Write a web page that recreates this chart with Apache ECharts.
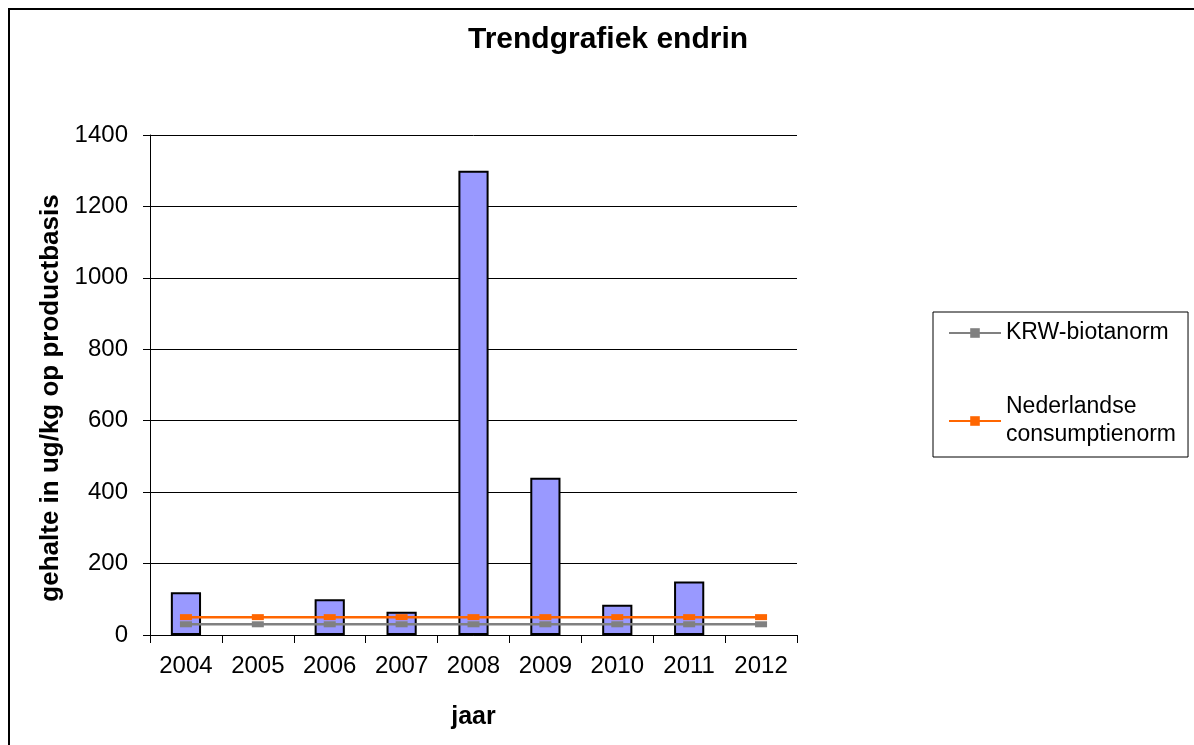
<!DOCTYPE html>
<html>
<head>
<meta charset="utf-8">
<script src="https://cdn.jsdelivr.net/npm/echarts@6/dist/echarts.min.js"></script>
<style>
  html, body { margin: 0; padding: 0; background: #fff; }
  #chart { width: 1194px; height: 745px; }
</style>
</head>
<body>
<div id="chart"></div>
<script>
const years = ['2004', '2005', '2006', '2007', '2008', '2009', '2010', '2011', '2012'];
const gehalte = [120, null, 100, 65, 1300, 440, 85, 150, null];
const krwNorm = [30, 30, 30, 30, 30, 30, 30, 30, 30];
const nlNorm = [50, 50, 50, 50, 50, 50, 50, 50, 50];

const font = "'Liberation Sans', Arial, sans-serif";

const chart = echarts.init(document.getElementById('chart'));

const option = {
  animation: false,
  textStyle: { fontFamily: font },
  title: {
    text: 'Trendgrafiek endrin',
    left: 463,
    top: 20,
    textStyle: { fontSize: 30, fontWeight: 'bold', color: '#000', fontFamily: font }
  },
  graphic: [
    {
      type: 'rect',
      shape: { x: 9, y: 9, width: 1200, height: 800 },
      style: { fill: 'none', stroke: '#000', lineWidth: 2 },
      silent: true
    }
  ],
  legend: {
    data: ['KRW-biotanorm', 'Nederlandse consumptienorm'],
    orient: 'vertical',
    left: 933,
    top: 312,
    padding: [7, 12, 8, 15],
    itemGap: 46,
    itemWidth: 52,
    itemHeight: 12,
    borderColor: '#000',
    borderWidth: 1,
    borderRadius: 0,
    formatter: function (name) {
      return name === 'Nederlandse consumptienorm' ? 'Nederlandse\nconsumptienorm' : name;
    },
    textStyle: { fontSize: 23, lineHeight: 28, color: '#000', fontFamily: font }
  },
  grid: { left: 150, right: 397, top: 135, bottom: 110 },
  xAxis: {
    type: 'category',
    data: years,
    name: 'jaar',
    nameLocation: 'middle',
    nameGap: 70,
    nameTextStyle: { fontSize: 25, fontWeight: 'bold', color: '#000', fontFamily: font },
    axisLine: { lineStyle: { color: '#000', width: 1 } },
    axisTick: { show: true, length: 8, lineStyle: { color: '#000' } },
    axisLabel: { fontSize: 24, color: '#000', margin: 19, interval: 0 },
    splitLine: { show: false }
  },
  yAxis: {
    type: 'value',
    min: 0,
    max: 1400,
    interval: 200,
    name: 'gehalte in ug/kg op productbasis',
    nameLocation: 'middle',
    nameGap: 86,
    nameTextStyle: {
      fontSize: 26, fontWeight: 'bold', color: '#000', fontFamily: font,
      padding: [0, 26, 0, 0]
    },
    axisLine: { show: true, lineStyle: { color: '#000', width: 1 } },
    axisTick: { show: true, length: 7, lineStyle: { color: '#000' } },
    axisLabel: { fontSize: 24, color: '#000', margin: 22, formatter: (v) => String(v) },
    splitLine: { show: true, lineStyle: { color: '#000', width: 1 } }
  },
  series: [
    {
      name: 'gehalte',
      type: 'bar',
      data: gehalte,
      barWidth: '42%',
      itemStyle: { color: '#9999FF', borderColor: '#000', borderWidth: 2 },
      z: 2
    },
    {
      name: 'KRW-biotanorm',
      type: 'line',
      data: krwNorm,
      symbol: 'rect',
      symbolSize: [12, 6],
      showAllSymbol: true,
      lineStyle: { color: '#808080', width: 2.5 },
      itemStyle: { color: '#808080' },
      z: 3
    },
    {
      name: 'Nederlandse consumptienorm',
      type: 'line',
      data: nlNorm,
      symbol: 'rect',
      symbolSize: [12, 6],
      showAllSymbol: true,
      lineStyle: { color: '#FF6600', width: 2.5 },
      itemStyle: { color: '#FF6600' },
      z: 4
    }
  ]
};

chart.setOption(option);
window.addEventListener('resize', () => chart.resize());
</script>
</body>
</html>
